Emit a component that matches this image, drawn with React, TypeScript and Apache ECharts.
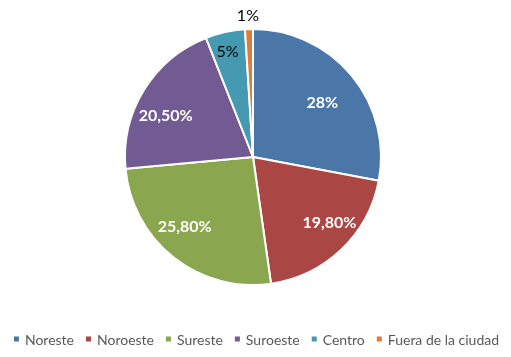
import React, { useEffect, useRef } from "react";
import * as echarts from "echarts";

const categories = ["Noreste", "Noroeste", "Sureste", "Suroeste", "Centro", "Fuera de la ciudad"];
const values = [28, 19.8, 25.8, 20.5, 5, 1];
const labels = ["28%", "19,80%", "25,80%", "20,50%", "5%", "1%"];
const colors = ["#4A76A8", "#AA4644", "#8AA64F", "#725A92", "#4599B0", "#E07B39"];
const labelOffsets = [[-7, 8], [8, -7], [-7, -9], [-3, 9], [-4, -10], [-2, -44]];

export default function App() {
  const ref = useRef<HTMLDivElement>(null);
  useEffect(() => {
    document.body.style.margin = "0";
    const chart = echarts.init(ref.current!, null, { renderer: "svg" });
    const center = [253, 157];
    const mainData = categories.map((c, i) => ({
      name: c,
      value: values[i],
      itemStyle: { color: colors[i] },
    }));
    const labelData = categories.map((c, i) => {
      const dark = i >= 4;
      return {
        name: c,
        value: values[i],
        label: {
          formatter: labels[i],
          color: dark ? "#000000" : "#ffffff",
          fontWeight: dark ? "normal" : "bold",
          offset: labelOffsets[i],
        },
      };
    });
    chart.setOption({
      animation: false,
      color: colors,
      legend: {
        bottom: 6,
        left: "center",
        itemWidth: 7,
        itemHeight: 7,
        itemGap: 10,
        icon: "rect",
        data: categories,
        textStyle: { color: "#595959", fontSize: 14, fontFamily: "Lato" },
      },
      series: [
        {
          type: "pie",
          center,
          radius: [0, 128],
          startAngle: 90,
          clockwise: true,
          data: mainData,
          label: { show: false },
          labelLine: { show: false },
          itemStyle: { borderColor: "#ffffff", borderWidth: 2 },
          silent: true,
        },
        {
          type: "pie",
          center,
          radius: [0, 192],
          startAngle: 90,
          clockwise: true,
          data: labelData,
          silent: true,
          itemStyle: { color: "rgba(0,0,0,0)", borderWidth: 0 },
          label: {
            show: true,
            position: "inside",
            fontSize: 16,
            fontFamily: "Lato",
          },
          labelLine: { show: false },
        },
      ],
    });
    return () => chart.dispose();
  }, []);
  return <div ref={ref} style={{ position: "fixed", left: 0, top: 0, width: 511, height: 357 }} />;
}
